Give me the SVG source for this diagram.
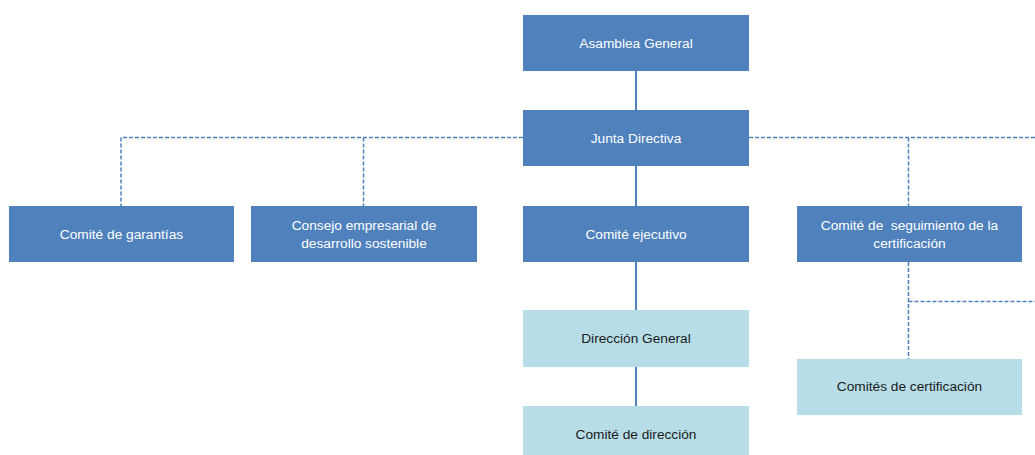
<svg xmlns="http://www.w3.org/2000/svg" width="1035" height="455" viewBox="0 0 1035 455">
<style>
.dk{fill:#4F81BD}
.lt{fill:#B7DEE8}
.tw{fill:#FFFFFF;font-family:"Liberation Sans",Arial,sans-serif;font-size:13.7px;text-anchor:middle}
.tb{fill:#1A1A1A;font-family:"Liberation Sans",Arial,sans-serif;font-size:13.7px;text-anchor:middle}
.solid{stroke:#4F81BD;stroke-width:2;fill:none}
.dash{stroke:#4F81BD;stroke-width:1.5;fill:none;stroke-dasharray:4 2}
</style>
<rect width="1035" height="455" fill="#FFFFFF"/>
<g id="connectors">
<line class="solid" x1="636" y1="71" x2="636" y2="110"/>
<line class="solid" x1="636" y1="166" x2="636" y2="206"/>
<line class="solid" x1="636" y1="262" x2="636" y2="310"/>
<line class="solid" x1="636" y1="367" x2="636" y2="406"/>
<polyline class="dash" points="523,137.5 121,137.5 121,206"/>
<line class="dash" x1="363.5" y1="137.5" x2="363.5" y2="206"/>
<line class="dash" x1="749" y1="137.5" x2="1035" y2="137.5"/>
<line class="dash" x1="908.5" y1="137.5" x2="908.5" y2="206"/>
<line class="dash" x1="908.5" y1="262" x2="908.5" y2="359"/>
<line class="dash" x1="908.5" y1="301.5" x2="1035" y2="301.5"/>
</g>
<g id="asamblea">
<rect class="dk" x="523" y="15" width="226" height="56"/>
<text class="tw" x="636" y="48">Asamblea General</text>
</g>
<g id="junta">
<rect class="dk" x="523" y="110" width="226" height="56"/>
<text class="tw" x="636" y="143">Junta Directiva</text>
</g>
<g id="garantias">
<rect class="dk" x="9" y="206" width="225" height="56"/>
<text class="tw" x="121.5" y="239">Comité de garantías</text>
</g>
<g id="consejo">
<rect class="dk" x="251" y="206" width="226" height="56"/>
<text class="tw" x="364" y="230">Consejo empresarial de</text>
<text class="tw" x="364" y="248">desarrollo sostenible</text>
</g>
<g id="ejecutivo">
<rect class="dk" x="523" y="206" width="226" height="56"/>
<text class="tw" x="636" y="239">Comité ejecutivo</text>
</g>
<g id="seguimiento">
<rect class="dk" x="797" y="206" width="225" height="56"/>
<text class="tw" x="909.5" y="230" xml:space="preserve">Comité de  seguimiento de la</text>
<text class="tw" x="909.5" y="248">certificación</text>
</g>
<g id="direccion-general">
<rect class="lt" x="523" y="310" width="226" height="57"/>
<text class="tb" x="636" y="343">Dirección General</text>
</g>
<g id="comite-direccion">
<rect class="lt" x="523" y="406" width="226" height="56"/>
<text class="tb" x="636" y="439">Comité de dirección</text>
</g>
<g id="certificacion">
<rect class="lt" x="797" y="359" width="225" height="56"/>
<text class="tb" x="909.5" y="391">Comités de certificación</text>
</g>
</svg>
